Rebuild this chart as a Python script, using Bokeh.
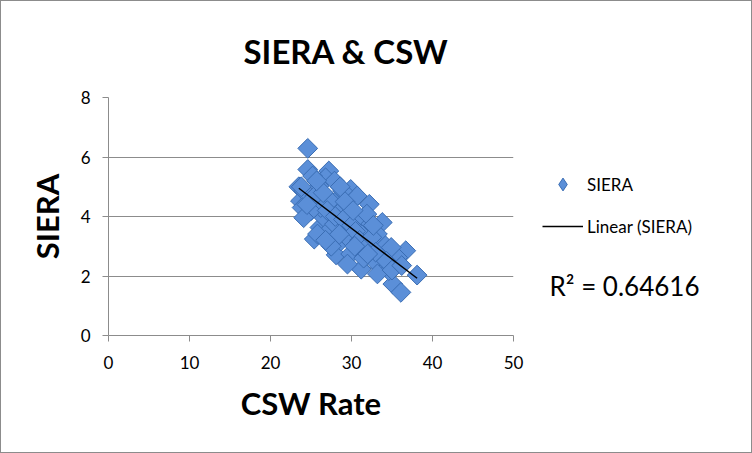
import numpy as np
from bokeh.plotting import figure
from bokeh.layouts import row
from bokeh.models import Range1d, Label, Legend, LegendItem, FixedTicker
from bokeh.embed import file_html
from bokeh.resources import INLINE

# ---- data ----
csw = [24.6, 24.6, 23.5, 35.1, 36.1, 38.1, 36.7, 31.2, 28.1, 25.4, 26.1, 27.2, 26.8, 32.2,
       33.8, 29.9, 30.7, 29.5, 28.3, 26.6, 28.7, 30.3, 32.4, 33.6, 34.6, 35.7, 34.0, 33.2,
       31.6, 24.6, 23.7, 24.1, 25.2, 26.0, 27.9, 28.9, 27.4, 26.2, 25.0, 27.2, 25.8, 29.5,
       30.7, 31.9, 31.1, 29.9, 32.8, 29.5, 34.9, 33.2, 28.3, 31.2, 27.9, 29.9, 23.9, 24.1,
       25.5, 26.5, 27.0, 28.0, 29.0, 30.0, 30.5, 31.0, 32.0, 32.5, 33.0, 27.5, 28.5, 26.8,
       29.2, 30.2, 31.5, 34.3, 35.0, 23.8, 24.5, 25.7, 28.6, 30.4, 32.7, 36.2, 32.0]
siera = [6.29, 5.58, 5.00, 1.73, 1.45, 2.03, 2.85, 2.23, 2.71, 3.24, 3.63, 5.53, 5.30, 4.41,
         3.80, 4.91, 4.69, 4.24, 4.58, 3.96, 3.18, 3.29, 2.79, 2.29, 2.18, 2.62, 3.07, 3.41,
         3.63, 4.63, 4.52, 4.86, 5.36, 5.03, 5.19, 4.86, 4.52, 4.30, 4.19, 3.52, 3.41, 3.63,
         3.96, 4.08, 2.96, 2.74, 2.51, 2.40, 2.96, 2.07, 4.08, 3.41, 3.74, 3.18, 4.30, 3.96,
         4.70, 4.80, 4.20, 4.00, 3.90, 3.70, 3.50, 3.20, 3.00, 3.30, 2.80, 3.00, 3.40, 3.20,
         4.50, 4.20, 2.60, 2.50, 2.20, 5.00, 4.40, 5.20, 5.00, 3.00, 3.70, 2.35, 2.74]
x_ticks = [0, 10, 20, 30, 40, 50]
y_ticks = [0, 2, 4, 6, 8]
title_text = "SIERA & CSW"
x_label = "CSW Rate"
y_label = "SIERA"
series_name = "SIERA"
trend_name = "Linear (SIERA)"
r2_text = "R² = 0.64616"

FONT = "Lato"
GREY = "#8c8c8c"
FILL = "#5b8fd8"
EDGE = "#3a6db3"

# ---- main chart ----
p = figure(width=530, height=453, output_backend="svg", toolbar_location=None,
           x_range=Range1d(0, 50), y_range=Range1d(0, 8),
           min_border_left=108, min_border_right=17,
           min_border_top=97, min_border_bottom=118)
p.outline_line_color = None
p.border_fill_alpha = 0

p.title.text = title_text
p.title.align = "left"
p.title.offset = 135
p.title.standoff = 54
p.title.text_font = FONT
p.title.text_font_style = "bold"
p.title.text_font_size = "33px"
p.title.text_color = "black"

p.xgrid.visible = False
p.ygrid.grid_line_color = GREY
p.ygrid.grid_line_width = 1

p.xaxis.ticker = FixedTicker(ticks=x_ticks)
p.yaxis.ticker = FixedTicker(ticks=y_ticks)
for ax in (p.xaxis, p.yaxis):
    ax.axis_line_color = GREY
    ax.major_tick_line_color = GREY
    ax.minor_tick_line_color = None
    ax.major_tick_in = 0
    ax.major_tick_out = 6
    ax.major_label_text_font = FONT
    ax.major_label_text_font_size = "17px"
    ax.major_label_text_color = "black"
    ax.axis_label_text_font = FONT
    ax.axis_label_text_font_style = "bold"
    ax.axis_label_text_font_size = "31px"
    ax.axis_label_text_color = "black"
p.xaxis.axis_label = x_label
p.yaxis.axis_label = y_label
p.xaxis.major_label_standoff = 14
p.yaxis.major_label_standoff = 12
p.xaxis.axis_label_standoff = 12
p.yaxis.axis_label_standoff = 12

p.scatter(csw, siera, marker="square", angle=np.pi / 4, size=14,
          fill_color=FILL, line_color=EDGE, line_width=1)

coef = np.polyfit(csw, siera, 1)
lx = [min(csw), max(csw)]
ly = list(np.polyval(coef, lx))
p.line(lx, ly, line_color="black", line_width=1.5)

# ---- legend panel on the right (same vertical scale as the chart) ----
q = figure(width=222, height=453, output_backend="svg", toolbar_location=None,
           x_range=Range1d(0, 222), y_range=Range1d(0, 8),
           x_axis_location=None, y_axis_location=None,
           min_border_left=0, min_border_right=0,
           min_border_top=97, min_border_bottom=118)
q.outline_line_color = None
q.grid.visible = False
q.border_fill_alpha = 0
q.background_fill_alpha = 0

sc2 = q.scatter(csw, siera, marker="diamond", size=14,
                fill_color=FILL, line_color=EDGE, line_width=1, visible=False)
ln2 = q.line(lx, ly, line_color="black", line_width=1.5, visible=False)

legend = Legend(items=[LegendItem(label=series_name, renderers=[sc2]),
                       LegendItem(label=trend_name, renderers=[ln2])],
                location=(12, 93), glyph_width=41, glyph_height=32,
                label_height=20, spacing=10, label_standoff=4,
                margin=0, padding=0, border_line_color=None,
                background_fill_alpha=0, inactive_fill_alpha=0,
                label_text_font=FONT, label_text_font_size="17px",
                label_text_color="black")
q.add_layout(legend)

q.add_layout(Label(x=19, y=1.68, text=r2_text, text_font=FONT,
                   text_font_size="26px", text_baseline="middle",
                   text_align="left", text_color="black"))

layout = row(p, q)
layout.styles = {"outline": "1px solid #8c8c8c", "outline-offset": "-1px"}

open("out.html", "w").write(file_html(layout, INLINE))
